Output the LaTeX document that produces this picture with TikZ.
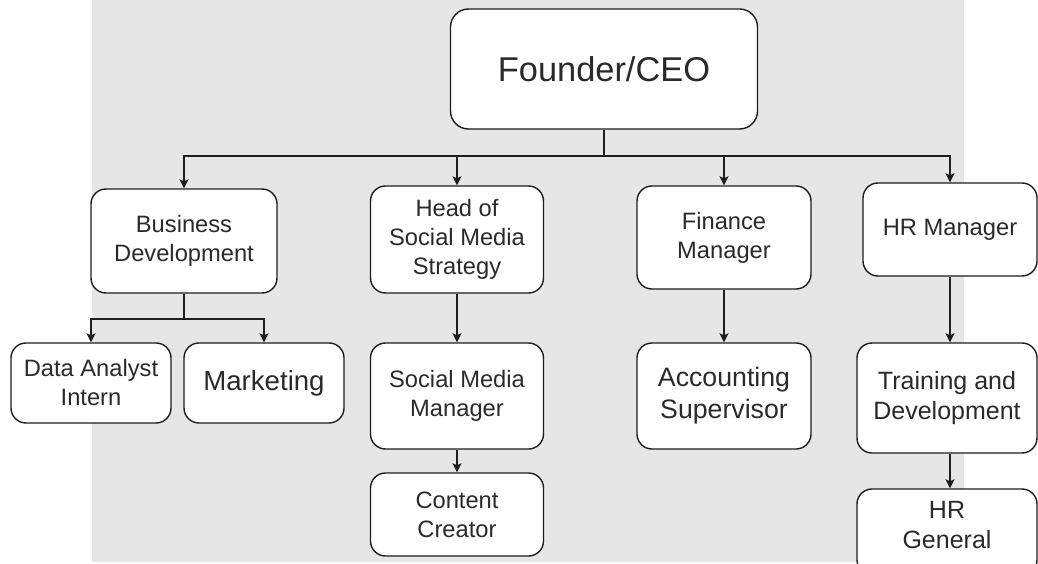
\documentclass[tikz,border=0pt]{standalone}
\usepackage{fontspec}
\setmainfont{Liberation Sans}
\usetikzlibrary{arrows.meta}
\definecolor{bgc}{HTML}{E6E6E6}
\definecolor{linec}{HTML}{1E1E1E}
\definecolor{textc}{HTML}{2A2A2A}
\begin{document}
\begin{tikzpicture}[x=1pt,y=-1pt,
  box/.style={draw=linec,line width=1.4pt,fill=white,rounded corners=15pt,align=center,inner sep=0pt,text=textc},
  arr/.style={draw=linec,line width=1.4pt,-{Stealth[length=9pt,width=9pt,inset=2pt]}},
  fa/.style={font=\fontsize{23.7}{29}\selectfont},
  fb/.style={font=\fontsize{25}{30.5}\selectfont},
  fc/.style={font=\fontsize{26.7}{32}\selectfont},
  fd/.style={font=\fontsize{27.6}{33}\selectfont},
  fe/.style={font=\fontsize{34.4}{41}\selectfont}]
\useasboundingbox (0,0) rectangle (1038,564);
\clip (0,0) rectangle (1038,564);
\fill[bgc] (92,0) rectangle (964,562);
% nodes
\node[box,fe,rounded corners=18pt,minimum width=307pt,minimum height=120pt] (ceo) at (604,69) {Founder/CEO};
\node[box,fa,minimum width=186pt,minimum height=104pt] (bd) at (184,241) {Business\\Development};
\node[box,fa,minimum width=173pt,minimum height=107pt] (hs) at (457,239.5) {Head of\\Social Media\\Strategy};
\node[box,fa,minimum width=174pt,minimum height=103pt] (fm) at (724,237.5) {Finance\\Manager};
\node[box,fa,minimum width=174pt,minimum height=93pt] (hrm) at (950,229.5) {HR Manager};
\node[box,fa,minimum width=160pt,minimum height=80pt] (da) at (91,383) {Data Analyst\\Intern};
\node[box,fd,minimum width=160pt,minimum height=80pt] (mk) at (264,383) {Marketing};
\node[box,fa,minimum width=173pt,minimum height=106pt] (smm) at (457,396) {Social Media\\Manager};
\node[box,fa,minimum width=173pt,minimum height=83pt] (cc) at (457,514.5) {Content\\Creator};
\node[box,fc,minimum width=174pt,minimum height=106pt] (as) at (724,396) {Accounting\\Supervisor};
\node[box,fb,minimum width=180pt,minimum height=110pt] (td) at (947,398) {Training and\\Development};
\node[box,fb,minimum width=180pt,minimum height=86pt,text depth=14pt] (hrg) at (947,532) {HR\\General};
% connectors
\coordinate (j1) at (604,156);
\coordinate (j2) at (184,319);
\draw[arr] (ceo.south) -- (j1) -| (bd.north);
\draw[arr] (j1) -| (hs.north);
\draw[arr] (j1) -| (fm.north);
\draw[arr] (j1) -| (hrm.north);
\draw[arr] (bd.south) -- (j2) -| (da.north);
\draw[arr] (j2) -| (mk.north);
\draw[arr] (hs.south) -- (smm.north);
\draw[arr] (smm.south) -- (cc.north);
\draw[arr] (fm.south) -- (as.north);
\draw[arr] (hrm.south) -- (hrm.south |- td.north);
\draw[arr] (td.south -| hrm.south) -- (hrm.south |- hrg.north);
\end{tikzpicture}
\end{document}
